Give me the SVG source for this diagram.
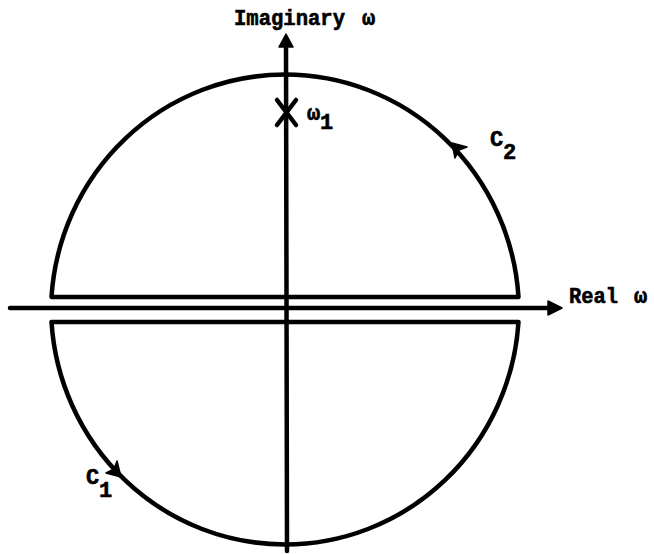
<svg xmlns="http://www.w3.org/2000/svg" width="654" height="554" viewBox="0 0 654 554">
<style>
.ln{fill:none;stroke:#000;stroke-width:4.5;stroke-linejoin:round;stroke-linecap:round}
.ah{fill:#000;stroke:#000;stroke-width:1.5;stroke-linejoin:round}
.t{font-family:"Liberation Mono","DejaVu Sans Mono",monospace;font-weight:bold;font-size:22px;fill:#000;stroke:#000;stroke-width:0.6}
</style>
<rect width="654" height="554" fill="#fff"/>
<g id="connectors">
<g id="imag-axis">
<line class="ln" x1="287" y1="551" x2="286" y2="44"/>
<polygon class="ah" points="286,34 293,47 279,47"/>
</g>
<g id="real-axis">
<line class="ln" x1="10" y1="308" x2="550" y2="308"/>
<polygon class="ah" points="562,308 548,301 548,315"/>
</g>
<g id="contour-c2">
<path class="ln" d="M51.5,297 L518.5,297 A234 238 0 0 0 51.5 297 Z"/>
<polygon class="ah" points="452,143 467,147 459,150 455,158"/>
</g>
<g id="contour-c1">
<path class="ln" d="M51.5,322 L518.5,322 A234 238 0 0 1 51.5 322 Z"/>
<polygon class="ah" points="121,477 106,473 114,469 117,461"/>
</g>
</g>
<g id="pole">
<line class="ln" x1="277" y1="100" x2="296" y2="125" stroke-width="5"/>
<line class="ln" x1="296" y1="100" x2="277" y2="125" stroke-width="5"/>
<text class="t" x="307" y="120">ω</text>
<text class="t" x="320" y="129" font-size="19">1</text>
</g>
<g id="label-imag">
<text class="t" x="234" y="25" textLength="111" lengthAdjust="spacingAndGlyphs">Imaginary</text>
<text class="t" x="362" y="25">ω</text>
</g>
<g id="label-real">
<text class="t" x="569" y="303" textLength="49" lengthAdjust="spacingAndGlyphs">Real</text>
<text class="t" x="634" y="303">ω</text>
</g>
<g id="label-c2">
<text class="t" x="490" y="146">C</text>
<text class="t" x="503" y="159">2</text>
</g>
<g id="label-c1">
<text class="t" x="86" y="484">C</text>
<text class="t" x="99" y="497">1</text>
</g>
</svg>
